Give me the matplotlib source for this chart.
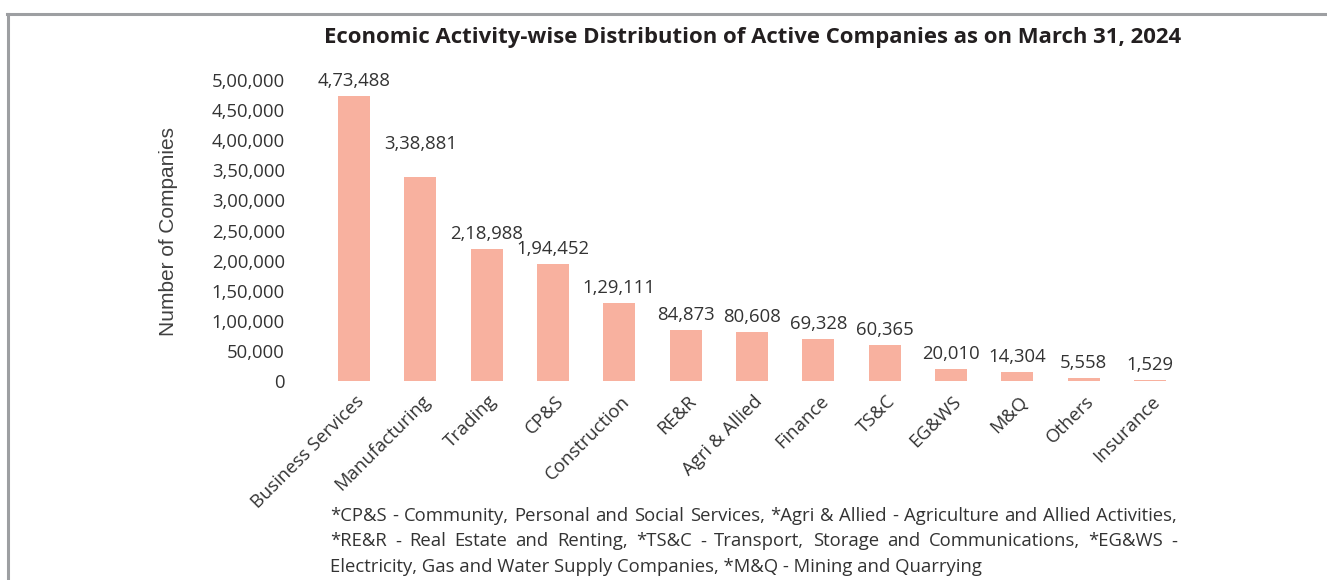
import matplotlib
matplotlib.use("Agg")
import matplotlib.pyplot as plt
from matplotlib.lines import Line2D
from matplotlib.transforms import ScaledTranslation

plt.rcParams['font.family'] = ['Open Sans', 'DejaVu Sans']

categories = ["Business Services", "Manufacturing", "Trading", "CP&S", "Construction",
              "RE&R", "Agri & Allied", "Finance", "TS&C", "EG&WS", "M&Q", "Others", "Insurance"]
companies = [473488, 338881, 218988, 194452, 129111, 84873, 80608, 69328, 60365,
             20010, 14304, 5558, 1529]
yticks = list(range(0, 500001, 50000))

footnote = [
    "*CP&S - Community, Personal and Social Services, *Agri & Allied - Agriculture and Allied Activities,",
    "*RE&R - Real Estate and Renting, *TS&C - Transport, Storage and Communications, *EG&WS -",
    "Electricity, Gas and Water Supply Companies, *M&Q - Mining and Quarrying",
]

TXT = "#333333"
BAR = "#F8B19F"
FS = 13.3
W, H = 1327, 580


def indian(n):
    s = str(int(n))
    if len(s) <= 3:
        return s
    head, tail = s[:-3], s[-3:]
    parts = []
    while len(head) > 2:
        parts.insert(0, head[-2:])
        head = head[:-2]
    if head:
        parts.insert(0, head)
    return ",".join(parts) + "," + tail


fig = plt.figure(figsize=(W / 100, H / 100), dpi=100)
ax = fig.add_axes([304.3 / W, (H - 381) / H, (1199.7 - 304.3) / W, 301 / H])

x = range(len(categories))
ax.bar(x, companies, width=0.48, color=BAR)
ax.set_xlim(-0.75, len(categories) - 0.25)
ax.set_ylim(0, 500000)

for s in ax.spines.values():
    s.set_visible(False)

ax.set_yticks(yticks)
ax.set_yticklabels([indian(v) for v in yticks])
ax.tick_params(axis='y', length=0, pad=14, labelsize=FS, labelcolor=TXT)

ax.set_xticks(list(x))
ax.set_xticklabels(categories, rotation=45, ha='right', va='top')
ax.tick_params(axis='x', length=0, pad=8, labelsize=FS, labelcolor=TXT)
shift = ScaledTranslation(14 / 100, 0, fig.dpi_scale_trans)
for lab in ax.get_xticklabels():
    lab.set_transform(lab.get_transform() + shift)

# value labels above the bars; Manufacturing's sits a little higher
lift = {"Manufacturing": 33}
for i, (c, v) in enumerate(zip(categories, companies)):
    ax.annotate(indian(v), (i, v), xytext=(0, lift.get(c, 15)), textcoords='offset pixels',
                ha='center', va='center', fontsize=FS, color=TXT)

fig.text(753 / W, 1 - 37 / H, "Economic Activity-wise Distribution of Active Companies as on March 31, 2024",
         ha='center', va='center', fontsize=15.9, fontweight='bold', color="#231F20")
fig.text(168 / W, 1 - 231 / H, "Number of Companies", rotation=90, ha='center', va='center',
         fontsize=15, color="#404040", family=['Liberation Sans', 'DejaVu Sans'])

# footnote: first two lines justified between the margins
renderer = fig.canvas.get_renderer()
left, right = 330, 1177
for k, line in enumerate(footnote):
    y = 1 - (516 + 25.5 * k) / H
    if k == len(footnote) - 1:
        fig.text(left / W, y, line, ha='left', va='center', fontsize=FS, color=TXT)
        continue
    words = line.split(" ")
    items = [fig.text(0, y, w, ha='left', va='center', fontsize=FS, color=TXT) for w in words]
    widths = [t.get_window_extent(renderer).width for t in items]
    gap = (right - left - sum(widths)) / (len(words) - 1)
    pos = left
    for t, wd in zip(items, widths):
        t.set_x(pos / W)
        pos += wd + gap

# frame lines along the top and left
fig.add_artist(Line2D([7 / W, 1], [1 - 14 / H, 1 - 14 / H], color="#9D9FA2", lw=2.2))
fig.add_artist(Line2D([7.5 / W, 7.5 / W], [0, 1 - 14 / H], color="#9D9FA2", lw=2.2))

fig.savefig("out.png", dpi=100)
